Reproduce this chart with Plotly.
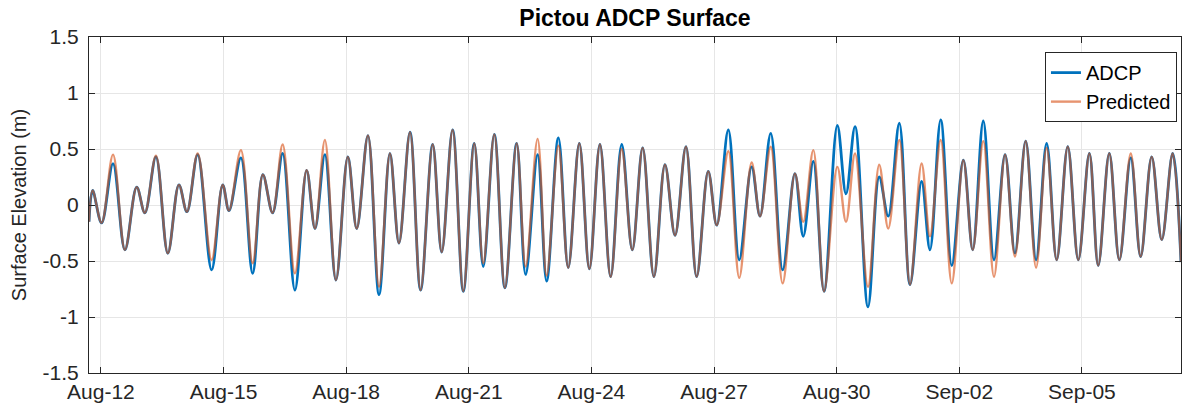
import pandas as pd
import plotly.graph_objects as go

# Extrema (hours since Aug-12 00:00)
hours = [-7.0, -4.9, 0.4, 7.1, 14.1, 21.0, 25.8, 32.3, 39.3, 45.8,
         50.5, 56.8, 65.0, 71.5, 75.2, 82.2, 89.1, 95.1, 100.8, 106.7,
         113.9, 120.8, 125.7, 131.5, 138.0, 145.0, 150.2, 156.8, 163.3, 169.7,
         175.0, 181.5, 187.7, 194.8, 200.1, 206.5, 212.8, 219.2, 224.5, 231.0,
         237.2, 244.1, 249.4, 256.4, 261.7, 268.6, 274.4, 280.9, 286.8, 293.0,
         299.3, 305.8, 312.0, 318.1, 324.7, 331.2, 337.1, 343.5, 349.8, 356.6,
         361.6, 368.4, 374.8, 382.1, 387.0, 393.3, 400.3, 407.5, 412.4, 418.3,
         424.6, 432.4, 437.5, 442.8, 450.4, 457.0, 462.3, 468.8, 475.1, 481.9,
         486.8, 493.1, 499.6, 506.4, 511.9, 518.1, 524.4, 530.9, 536.7, 543.0,
         549.1, 555.3, 561.2, 567.7, 573.9, 580.4, 585.6, 592.1, 598.0, 604.7,
         610.5, 617.0, 622.9, 629.3, 634.2]

adcp = [-0.15, 0.13, -0.16, 0.37, -0.40, 0.16, -0.07, 0.43, -0.43, 0.18,
        -0.06, 0.45, -0.58, 0.18, -0.05, 0.42, -0.61, 0.27, -0.07, 0.46,
        -0.76, 0.31, -0.21, 0.45, -0.67, 0.43, -0.21, 0.62, -0.80, 0.46,
        -0.34, 0.65, -0.76, 0.54, -0.42, 0.67, -0.77, 0.55, -0.55, 0.63,
        -0.74, 0.55, -0.62, 0.45, -0.68, 0.60, -0.56, 0.55, -0.57, 0.54,
        -0.64, 0.54, -0.40, 0.51, -0.64, 0.36, -0.27, 0.52, -0.64, 0.30,
        -0.18, 0.67, -0.49, 0.34, -0.10, 0.64, -0.58, 0.28, -0.28, 0.39,
        -0.77, 0.71, 0.10, 0.70, -0.91, 0.25, -0.10, 0.73, -0.71, 0.21,
        -0.40, 0.76, -0.54, 0.40, -0.40, 0.75, -0.49, 0.45, -0.43, 0.57,
        -0.49, 0.55, -0.49, 0.52, -0.49, 0.46, -0.54, 0.46, -0.49, 0.42,
        -0.46, 0.43, -0.31, 0.46, -0.51]

predicted = [-0.15, 0.13, -0.16, 0.45, -0.40, 0.16, -0.07, 0.44, -0.43, 0.18,
             -0.06, 0.46, -0.49, 0.18, -0.05, 0.49, -0.52, 0.27, -0.07, 0.54,
             -0.61, 0.31, -0.21, 0.58, -0.67, 0.43, -0.21, 0.62, -0.73, 0.46,
             -0.34, 0.65, -0.76, 0.54, -0.42, 0.67, -0.77, 0.55, -0.52, 0.63,
             -0.74, 0.55, -0.55, 0.59, -0.63, 0.53, -0.56, 0.55, -0.57, 0.54,
             -0.64, 0.50, -0.40, 0.51, -0.64, 0.36, -0.27, 0.52, -0.64, 0.30,
             -0.18, 0.48, -0.65, 0.38, -0.10, 0.52, -0.70, 0.28, -0.15, 0.49,
             -0.77, 0.34, -0.15, 0.46, -0.73, 0.36, -0.21, 0.58, -0.71, 0.37,
             -0.28, 0.58, -0.70, 0.40, -0.40, 0.57, -0.64, 0.45, -0.46, 0.57,
             -0.56, 0.51, -0.49, 0.52, -0.49, 0.46, -0.54, 0.46, -0.49, 0.46,
             -0.46, 0.43, -0.31, 0.46, -0.51]

y_ticks = [-1.5, -1, -0.5, 0, 0.5, 1, 1.5]
y_tick_labels = ["-1.5", "-1", "-0.5", "0", "0.5", "1", "1.5"]

base = pd.Timestamp("2019-08-12")
times = base + pd.to_timedelta(hours, unit="h")

FONT = "Liberation Sans, Arial, sans-serif"
AX = "#262626"

fig = go.Figure()
fig.add_trace(go.Scatter(x=times, y=adcp, mode="lines", name="ADCP",
                         line=dict(color="#0072BD", width=2.8, shape="spline", smoothing=1.0)))
fig.add_trace(go.Scatter(x=times, y=predicted, mode="lines", name="Predicted",
                         opacity=0.62,
                         line=dict(color="#D95319", width=2.4, shape="spline", smoothing=1.0)))

fig.update_layout(
    width=1185, height=414,
    margin=dict(l=89, r=4, t=37, b=41),
    paper_bgcolor="white", plot_bgcolor="white",
    font=dict(family=FONT, size=21, color=AX),
    title=dict(text="<b>Pictou ADCP Surface</b>", x=(89 + 1181) / 2 / 1185, xanchor="center",
               y=1 - 18 / 414, yanchor="middle", yref="container",
               font=dict(family=FONT, size=23, color="#000000")),
    showlegend=True,
    legend=dict(x=0.9963, xanchor="right", y=0.955, yanchor="top",
                bgcolor="white", bordercolor=AX, borderwidth=1,
                font=dict(family=FONT, size=20, color="#000000"),
                itemwidth=30, tracegroupgap=0),
)
fig.update_xaxes(
    range=[times[0], times[-1]],
    tickformat="%b-%d", dtick=3 * 86400000, tick0=base,
    showgrid=True, gridcolor="#e6e6e6", gridwidth=1,
    showline=True, linecolor=AX, linewidth=1, mirror="ticks",
    ticks="inside", ticklen=6, tickcolor=AX,
    tickfont=dict(family=FONT, size=21, color=AX),
    zeroline=False,
)
fig.update_yaxes(
    range=[-1.5, 1.5], tickvals=y_ticks, ticktext=y_tick_labels,
    showgrid=True, gridcolor="#e6e6e6", gridwidth=1,
    showline=True, linecolor=AX, linewidth=1, mirror="ticks",
    ticks="inside", ticklen=6, tickcolor=AX,
    ticklabelstandoff=5,
    tickfont=dict(family=FONT, size=21, color=AX),
    title=dict(text="Surface Elevation (m)", font=dict(family=FONT, size=20, color=AX), standoff=10),
    zeroline=False,
)

fig.write_html("out.html")
